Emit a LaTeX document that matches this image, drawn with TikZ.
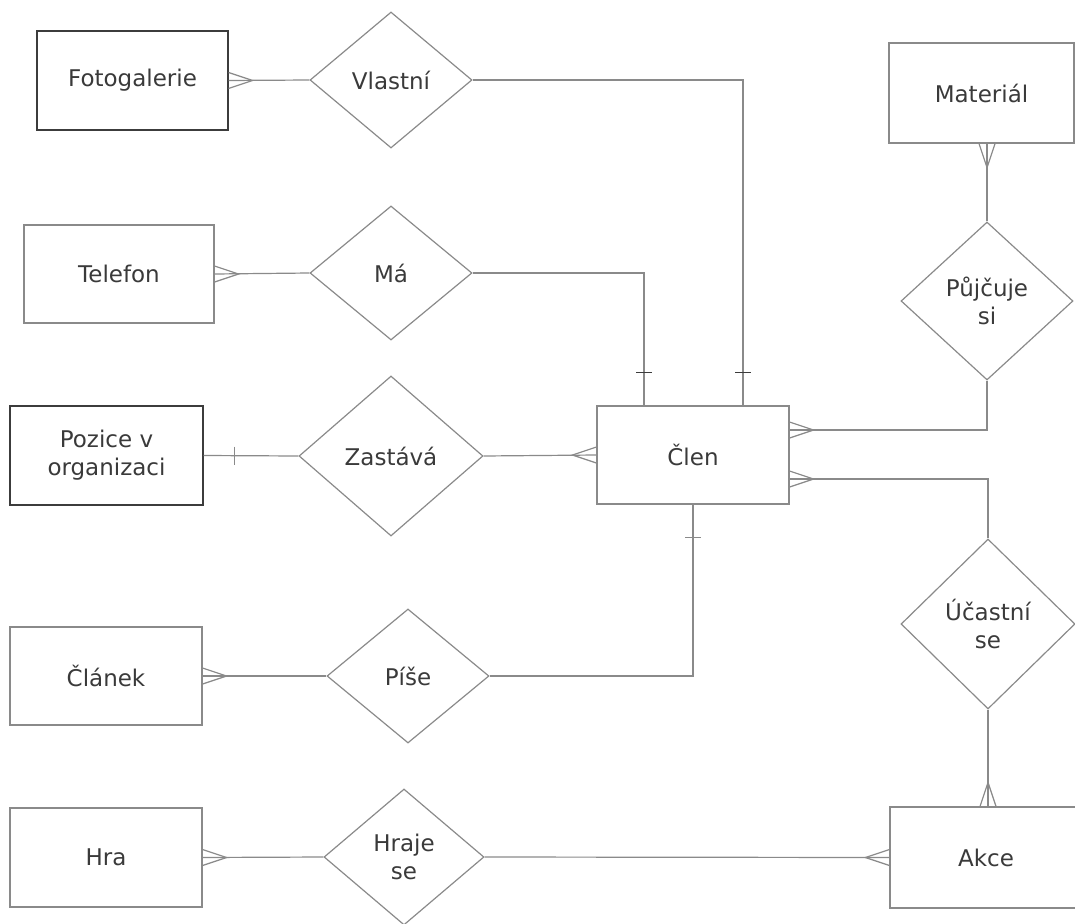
\documentclass[tikz,border=0pt]{standalone}
\usepackage{fontspec}
\setmainfont{DejaVu Sans}
\usetikzlibrary{shapes.geometric}

\definecolor{edge}{HTML}{8A8A8A}
\definecolor{darkedge}{HTML}{3C3C3C}
\definecolor{ink}{HTML}{3A3A3A}

\tikzset{
  entity/.style={draw=edge, line width=1.2pt, rectangle, inner sep=0pt,
    minimum width=#1, text=ink, font=\fontsize{23}{28}\selectfont, align=center},
  entity/.default=192pt,
  relation/.style={draw=edge, line width=1.2pt, diamond, inner sep=0pt,
    text=ink, font=\fontsize{23}{28}\selectfont, align=center},
  conn/.style={draw=edge, line width=1.2pt},
  bar/.style={draw=darkedge, line width=1.2pt},
  crow/.pic={\draw[conn] (0,-8) -- (24,0) -- (0,8);},
}

\begin{document}
\begin{tikzpicture}[x=1pt, y=-1pt]
\useasboundingbox (0,0) rectangle (1075,923);

% entities
\node[entity=191pt, minimum height=99pt, draw=darkedge] (foto) at (132.5,80.5) {Fotogalerie};
\node[entity=190pt, minimum height=98pt] (tel) at (119,274) {Telefon};
\node[entity=193pt, minimum height=99pt, draw=darkedge] (pozice) at (106.5,455.5) {Pozice v\\organizaci};
\node[entity=192pt, minimum height=98pt] (clen) at (693,455) {Člen};
\node[entity=185pt, minimum height=100pt] (material) at (981.5,93) {Materiál};
\node[entity=192pt, minimum height=98pt] (clanek) at (106,676) {Článek};
\node[entity=192pt, minimum height=99pt] (hra) at (106,857.5) {Hra};
\node[entity=192pt, minimum height=101pt] (akce) at (986,857.5) {Akce};

% relationships
\node[relation, minimum width=162pt, minimum height=136pt] (vlastni) at (391,80) {Vlastní};
\node[relation, minimum width=162pt, minimum height=134pt] (ma) at (391,273) {Má};
\node[relation, minimum width=184pt, minimum height=160pt] (zastava) at (391,456) {Zastává};
\node[relation, minimum width=172pt, minimum height=158pt] (pujcuje) at (987,301) {Půjčuje\\si};
\node[relation, minimum width=174pt, minimum height=170pt] (ucastni) at (988,624) {Účastní\\se};
\node[relation, minimum width=162pt, minimum height=134pt] (pise) at (408,676) {Píše};
\node[relation, minimum width=160pt, minimum height=136pt] (hraje) at (404,857) {Hraje\\se};

% connectors
\draw[conn] (foto.east) -- (vlastni.west);
\draw[conn] (vlastni.east) -| ([xshift=50pt]clen.north);
\draw[conn] (tel.east) -- (ma.west);
\draw[conn] (ma.east) -| ([xshift=-49pt]clen.north);
\draw[conn] (pozice.east) -- (zastava.west);
\draw[conn] (zastava.east) -- (clen.west);
\draw[conn] (pujcuje.north) -- (pujcuje.north |- material.south);
\draw[conn] (pujcuje.south) |- ([yshift=25pt]clen.east);
\draw[conn] (ucastni.north) |- ([yshift=-24pt]clen.east);
\draw[conn] (ucastni.south) -- (ucastni.south |- akce.north);
\draw[conn] (clanek.east) -- (pise.west);
\draw[conn] (pise.east) -| (clen.south);
\draw[conn] (hra.east) -- (hraje.west);
\draw[conn] (hraje.east) -- (akce.west);

% many-side crow's feet
\pic at (foto.east) {crow};
\pic at (tel.east) {crow};
\pic[rotate=180] at (clen.west) {crow};
\pic at ([yshift=25pt]clen.east) {crow};
\pic at ([yshift=-24pt]clen.east) {crow};
\pic[rotate=-90] at (pujcuje.north |- material.south) {crow};
\pic[rotate=90] at (ucastni.south |- akce.north) {crow};
\pic[rotate=180] at (akce.west) {crow};
\pic at (clanek.east) {crow};
\pic at (hra.east) {crow};

% one-side bars
\draw[bar] ([xshift=50pt,yshift=33pt]clen.north) ++(-8,0) -- ++(16,0);
\draw[bar] ([xshift=-49pt,yshift=33pt]clen.north) ++(-8,0) -- ++(16,0);
\draw[conn] ([yshift=-33pt]clen.south) ++(-8,0) -- ++(16,0);
\draw[conn] ([xshift=31pt]pozice.east) ++(0,-9) -- ++(0,18);
\end{tikzpicture}
\end{document}
